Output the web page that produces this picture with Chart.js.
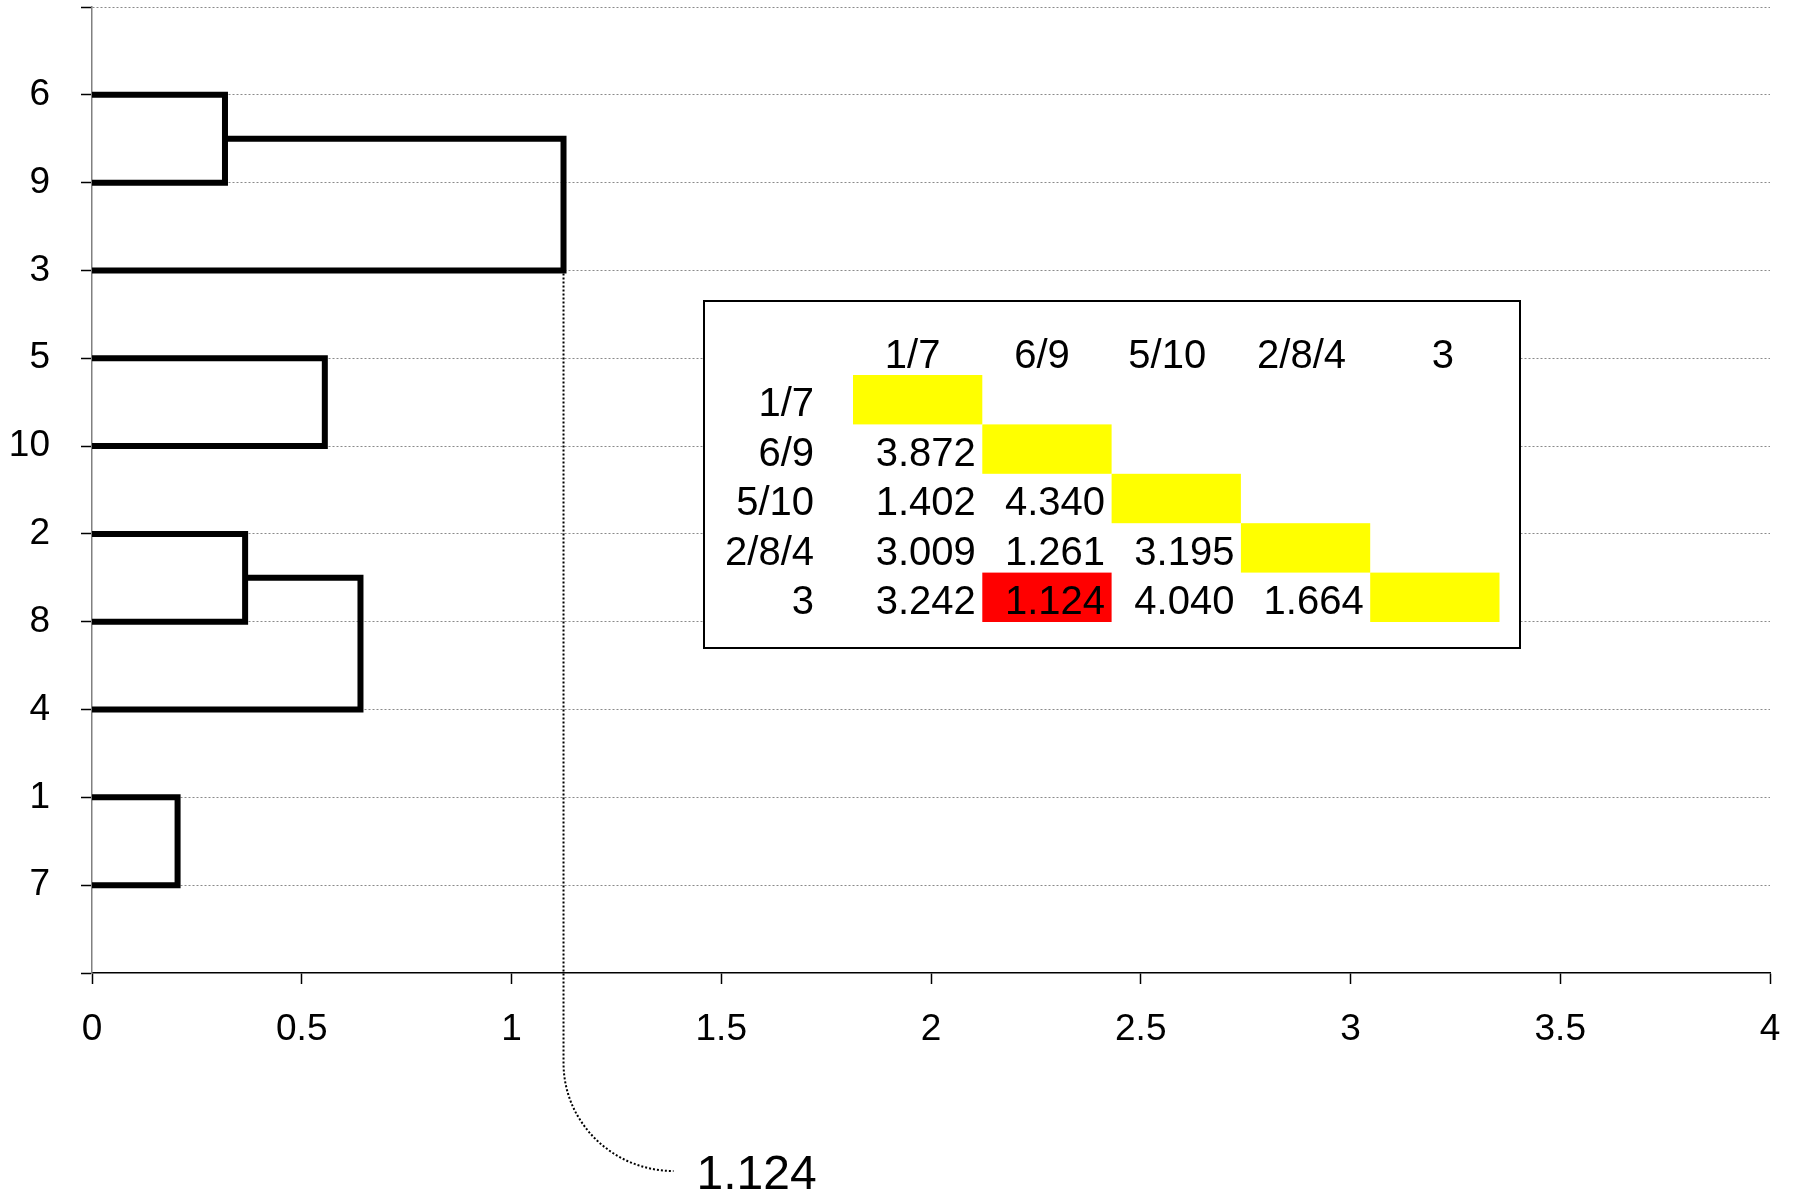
<!DOCTYPE html>
<html>
<head>
<meta charset="utf-8">
<title>Dendrogram</title>
<script src="https://cdn.jsdelivr.net/npm/chart.js@4/dist/chart.umd.min.js"></script>
<style>
  html, body { margin: 0; padding: 0; background: #fff; }
  canvas { display: block; }
</style>
</head>
<body>
<canvas id="chart" width="1795" height="1193"></canvas>
<script>
// leaves from bottom (y = 1) to top (y = 10)
var leafLabels = ['7', '1', '4', '8', '2', '10', '5', '3', '9', '6'];

// merge steps: cluster A joins cluster B at the given distance
var mergeA = ['6', '5', '2', '1', '6/9', '2/8'];
var mergeB = ['9', '10', '8', '7', '3', '4'];
var mergeHeight = [0.317, 0.555, 0.365, 0.204, 1.124, 0.640];

// distance matrix shown in the inset
var tableClusters = ['1/7', '6/9', '5/10', '2/8/4', '3'];
var distRows = [
    [],
    [3.872],
    [1.402, 4.340],
    [3.009, 1.261, 3.195],
    [3.242, 1.124, 4.040, 1.664]
];

var FONT = '"Liberation Sans", Arial, sans-serif';
Chart.defaults.font.family = FONT;

// positions of every node in the tree
var nodes = {};
leafLabels.forEach(function (l, i) { nodes[l] = { x: 0, y: i + 1 }; });
var datasets = [];
mergeA.forEach(function (a, i) {
    var b = mergeB[i], h = mergeHeight[i];
    var na = nodes[a], nb = nodes[b];
    datasets.push({
        data: [
            { x: na.x, y: na.y },
            { x: h, y: na.y },
            { x: h, y: nb.y },
            { x: nb.x, y: nb.y }
        ],
        showLine: true,
        pointRadius: 0,
        borderColor: '#000',
        borderWidth: 6,
        borderJoinStyle: 'miter',
        borderCapStyle: 'butt',
        fill: false
    });
    nodes[a + '/' + b] = { x: h, y: (na.y + nb.y) / 2 };
});

// smallest distance in the matrix -> highlighted cell and leader label
var minVal = Infinity, minR = -1, minC = -1;
distRows.forEach(function (row, r) {
    row.forEach(function (v, c) { if (v < minVal) { minVal = v; minR = r; minC = c; } });
});
var leaderIdx = mergeHeight.indexOf(minVal);

var tablePlugin = {
    id: 'distTable',
    afterDraw: function (chart) {
        var ctx = chart.ctx, ca = chart.chartArea;
        var left = ca.left + 612, top = ca.top + 294, w = 816, h = 347;
        var cellX = left + 149, cellW = 129.3, rowTop = top + 74, rowH = 49.4;
        var headerNudge = [-5, -5, -9, -4, 8];
        ctx.save();
        ctx.fillStyle = '#fff';
        ctx.fillRect(left, top, w, h);
        ctx.font = '40px ' + FONT;
        ctx.textBaseline = 'alphabetic';
        // header
        ctx.fillStyle = '#000';
        ctx.textAlign = 'center';
        tableClusters.forEach(function (c, i) {
            ctx.fillText(c, cellX + cellW * i + cellW / 2 + headerNudge[i], top + 67);
        });
        // rows
        tableClusters.forEach(function (c, r) {
            var y0 = rowTop + rowH * r;
            ctx.fillStyle = '#ffff00';
            ctx.fillRect(cellX + cellW * r, y0, cellW, rowH);
            if (r === minR) {
                ctx.fillStyle = '#ff0000';
                ctx.fillRect(cellX + cellW * minC, y0, cellW, rowH);
            }
            ctx.fillStyle = '#000';
            ctx.textAlign = 'right';
            ctx.fillText(c, left + 110, y0 + rowH - 8);
            distRows[r].forEach(function (v, k) {
                ctx.fillText(v.toFixed(3), cellX + cellW * (k + 1) - 6.5, y0 + rowH - 8);
            });
        });
        ctx.strokeStyle = '#000';
        ctx.lineWidth = 2;
        ctx.strokeRect(left, top, w, h);
        ctx.restore();
    }
};

var leaderPlugin = {
    id: 'leader',
    afterDraw: function (chart) {
        var ctx = chart.ctx, ca = chart.chartArea;
        var xs = chart.scales.x, ys = chart.scales.y;
        var px = xs.getPixelForValue(minVal);
        var py = ys.getPixelForValue(nodes[mergeB[leaderIdx]].y);
        var bend = ca.bottom + 90, endX = px + 110, endY = ca.bottom + 198;
        ctx.save();
        ctx.strokeStyle = '#000';
        ctx.lineWidth = 2;
        ctx.setLineDash([2, 2]);
        ctx.beginPath();
        ctx.moveTo(px, py + 3);
        ctx.lineTo(px, bend);
        ctx.bezierCurveTo(px, bend + 60, endX - 60, endY, endX, endY);
        ctx.stroke();
        ctx.setLineDash([]);
        ctx.fillStyle = '#000';
        ctx.font = '48px ' + FONT;
        ctx.textAlign = 'left';
        ctx.textBaseline = 'alphabetic';
        ctx.fillText(minVal.toFixed(3), px + 133, ca.bottom + 216);
        ctx.restore();
    }
};

new Chart(document.getElementById('chart'), {
    type: 'scatter',
    data: { datasets: datasets },
    options: {
        responsive: false,
        animation: false,
        devicePixelRatio: 1,
        layout: { padding: { top: 7, right: 25, left: 0, bottom: 0 } },
        plugins: { legend: { display: false }, tooltip: { enabled: false } },
        scales: {
            x: {
                type: 'linear',
                position: 'bottom',
                min: 0,
                max: 4,
                ticks: {
                    stepSize: 0.5, maxRotation: 0, autoSkip: false, padding: 24,
                    color: '#000', font: { size: 37 },
                    callback: function (v) { return String(v); }
                },
                grid: { drawOnChartArea: false, drawTicks: true, tickLength: 11, tickColor: '#000', tickWidth: 1.5 },
                border: { color: '#000', width: 1.5 },
                afterFit: function (s) { s.height = 220; s.paddingLeft = 0; s.paddingRight = 0; }
            },
            y: {
                type: 'linear',
                min: 0,
                max: 11,
                ticks: {
                    stepSize: 1, padding: 31, color: '#000', font: { size: 37 },
                    callback: function (v) { return leafLabels[v - 1] || ''; }
                },
                grid: {
                    color: function (c) { return c.tick && c.tick.value === 0 ? 'rgba(0,0,0,0)' : '#8a8a8a'; },
                    lineWidth: 1, tickLength: 11, tickColor: '#000', tickWidth: 1.5, tickBorderDash: []
                },
                border: { color: '#808080', width: 1.5, dash: [2, 2] },
                afterFit: function (s) { s.width = 92; s.paddingTop = 0; s.paddingBottom = 0; }
            }
        }
    },
    plugins: [tablePlugin, leaderPlugin]
});
</script>
</body>
</html>
